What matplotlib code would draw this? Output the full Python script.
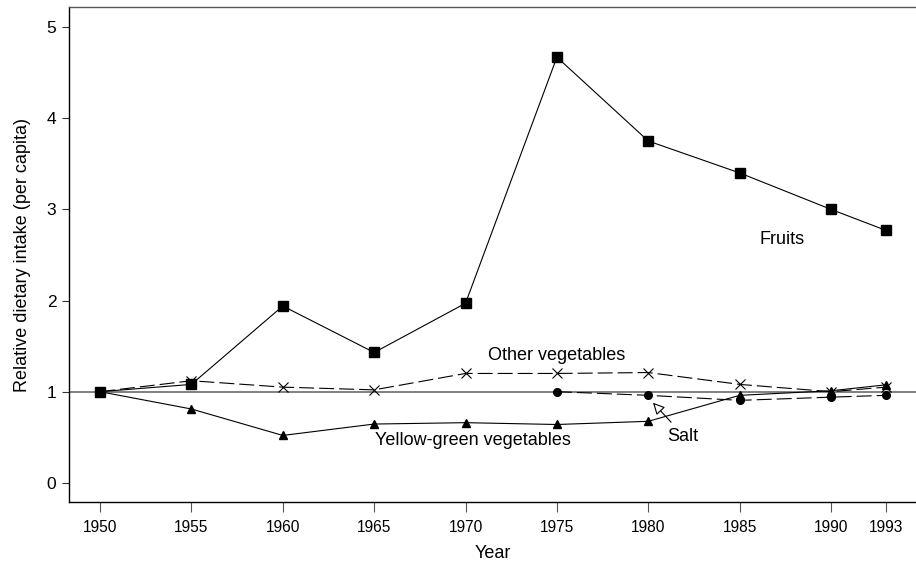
import matplotlib
matplotlib.use("Agg")
import matplotlib.pyplot as plt

plt.rcParams["font.family"] = ["Liberation Sans", "DejaVu Sans"]
plt.rcParams["lines.scale_dashes"] = False

# ── data ──────────────────────────────────────────────────────────────
years = [1950, 1955, 1960, 1965, 1970, 1975, 1980, 1985, 1990, 1993]
fruits = [1.00, 1.08, 1.94, 1.43, 1.97, 4.67, 3.75, 3.40, 3.00, 2.77]
other_veg = [1.00, 1.12, 1.05, 1.02, 1.20, 1.20, 1.21, 1.08, 1.00, 1.05]
yellow_green = [1.00, 0.81, 0.52, 0.645, 0.66, 0.64, 0.675, 0.96, 1.01, 1.075]
salt_years = [1975, 1980, 1985, 1990, 1993]
salt = [1.00, 0.96, 0.905, 0.94, 0.96]

yticks = [0, 1, 2, 3, 4, 5]

DASH = (0, (10.8, 3.6))

fig = plt.figure(figsize=(9.16, 5.62), dpi=100)
ax = fig.add_axes([0.0753, 0.1068, 0.9247, 0.8807])

ax.axhline(1, color="#777777", lw=1.3, zorder=1)

ax.plot(years, fruits, color="black", lw=0.8, marker="s", ms=7,
        zorder=4)
ax.plot(years, other_veg, color="black", lw=0.8, ls=DASH, marker="x",
        ms=7, mew=0.8, zorder=3)
ax.plot(years, yellow_green, color="black", lw=0.8, marker="^", ms=5.5,
        zorder=3)
ax.plot(salt_years, salt, color="black", lw=0.8, ls=DASH, marker="o",
        ms=5.5, zorder=3)

ax.text(1987.3, 2.67, "Fruits", fontsize=13, ha="center", va="center")
ax.text(1975.0, 1.395, "Other vegetables", fontsize=13, ha="center",
        va="center")
ax.text(1970.4, 0.46, "Yellow-green vegetables", fontsize=13, ha="center",
        va="center")
ax.text(1981.9, 0.505, "Salt", fontsize=13, ha="center", va="center")
ax.annotate("", xy=(1980.26, 0.879), xytext=(1981.25, 0.665),
            arrowprops=dict(arrowstyle="-|>,head_length=0.7,head_width=0.35",
                            fc="white", ec="black", lw=0.8,
                            shrinkA=0, shrinkB=0))

ax.set_xlim(1948.3, 1994.65)
ax.set_ylim(-0.21, 5.22)
ax.set_xticks(years)
ax.set_xticklabels([str(y) for y in years], fontsize=11.2)
ax.set_yticks(yticks)
ax.set_yticklabels([str(v) for v in yticks], fontsize=12.5)
ax.set_xlabel("Year", fontsize=13, labelpad=7)
ax.set_ylabel("Relative dietary intake (per capita)", fontsize=13,
              labelpad=11)

ax.spines["right"].set_visible(False)
ax.spines["top"].set_color("#555555")
for s in ["left", "bottom", "top"]:
    ax.spines[s].set_linewidth(1.0)
ax.tick_params(axis="x", length=7, width=0.8, color="#555555", pad=6)
ax.tick_params(axis="y", length=5, width=0.8, color="#333333", pad=4)

fig.savefig("out.png", dpi=100)
